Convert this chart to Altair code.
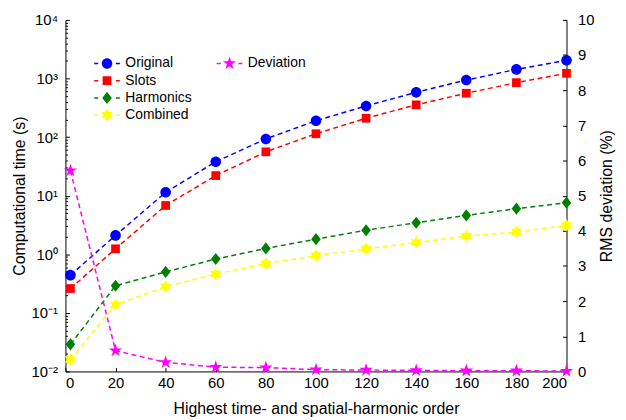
import math
import altair as alt
import pandas as pd

# ---------------- data ----------------
x_vals = [2, 20, 40, 60, 80, 100, 120, 140, 160, 180, 200]
original = [0.44, 2.1, 11.4, 38, 93, 190, 340, 580, 940, 1430, 2040]
slots = [0.26, 1.24, 6.8, 22, 56, 114, 210, 355, 560, 850, 1225]
harmonics = [0.029, 0.29, 0.50, 0.83, 1.26, 1.81, 2.57, 3.45, 4.6, 6.0, 7.6]
combined = [0.016, 0.137, 0.28, 0.46, 0.69, 0.95, 1.23, 1.59, 2.03, 2.4, 3.1]
deviation = [5.71, 0.59, 0.26, 0.12, 0.11, 0.05, 0.04, 0.03, 0.02, 0.02, 0.01]

left_names = ["Original", "Slots", "Harmonics", "Combined"]
left_colors = ["#0000FF", "#FF0000", "#008000", "#FFFF00"]
dev_name = "Deviation"
dev_color = "#FF00FF"

x_ticks = [0, 20, 40, 60, 80, 100, 120, 140, 160, 180, 200]
y_major = [0.01, 0.1, 1, 10, 100, 1000, 10000]
y_minor = [k * 10 ** d for d in range(-2, 4) for k in range(2, 10)]
r_ticks = list(range(0, 11))

FONT = "Liberation Sans"
TICK_FS = 15

# ---------------- marker shapes (unit paths) ----------------
def circle(r):
    return f"M{r},0A{r},{r} 0 1,1 {-r},0A{r},{r} 0 1,1 {r},0Z"

def poly(pts):
    return "M" + "L".join(f"{x:.3f},{y:.3f}" for x, y in pts) + "Z"

def star(n, R, r):
    pts = []
    for i in range(2 * n):
        a = -math.pi / 2 + i * math.pi / n
        rad = R if i % 2 == 0 else r
        pts.append((rad * math.cos(a), rad * math.sin(a)))
    return poly(pts)

def hexagram(R):
    t1 = [(R * math.cos(-math.pi / 2 + k * 2 * math.pi / 3), R * math.sin(-math.pi / 2 + k * 2 * math.pi / 3)) for k in range(3)]
    t2 = [(R * math.cos(math.pi / 2 + k * 2 * math.pi / 3), R * math.sin(math.pi / 2 + k * 2 * math.pi / 3)) for k in range(3)]
    return poly(t1) + poly(t2)

m_circle = circle(0.97)
m_square = poly([(-0.8, -0.8), (0.8, -0.8), (0.8, 0.8), (-0.8, 0.8)])
m_diamond = poly([(-0.88, 0), (0, -1.12), (0.88, 0), (0, 1.12)])
m_hexa = hexagram(1.17)
m_penta = star(5, 1.28, 1.28 * 0.382)

dash_l = poly([(-2.35, -0.14), (-1.62, -0.14), (-1.62, 0.14), (-2.35, 0.14)])
dash_r = poly([(1.62, -0.14), (2.35, -0.14), (2.35, 0.14), (1.62, 0.14)])

left_markers = [m_circle, m_square, m_diamond, m_hexa]
left_legend_paths = [dash_l + m + dash_r for m in left_markers]
dev_legend_path = dash_l + m_penta + dash_r

MSIZE = 121

# ---------------- tables ----------------
left_df = pd.DataFrame(
    [
        {"x": x, "value": v, "series": name}
        for name, vals in zip(left_names, [original, slots, harmonics, combined])
        for x, v in zip(x_vals, vals)
    ]
)
dev_df = pd.DataFrame({"x": x_vals, "value": deviation, "series": dev_name})

xscale = alt.Scale(domain=[0, 200], nice=False, zero=False)
yscale_l = alt.Scale(type="log", domain=[0.01, 10000], nice=False)
yscale_r = alt.Scale(domain=[0, 10], nice=False, zero=True)
cscale = alt.Scale(domain=left_names, range=left_colors)

common_axis = dict(grid=False, domainColor="black", tickColor="black", labelColor="black",
                   labelFont=FONT, titleFont=FONT, titleColor="black", titleFontWeight="normal",
                   domainWidth=1, tickWidth=1)

def tick_axis(orient, values, size):
    return alt.Axis(orient=orient, values=values, labels=False, domain=False, ticks=True,
                    tickSize=size, offset=-size, title=None, **common_axis)

no_axis = None

x_main_axis = alt.Axis(orient="bottom", values=x_ticks, format="d", ticks=False, tickSize=0,
                       labelPadding=4, labelFontSize=TICK_FS,
                       title="Highest time- and spatial-harmonic order", titleFontSize=16,
                       titleX=253, titleY=37, titleBaseline="middle", titleAlign="center",
                       **common_axis)

left_main_axis = alt.Axis(
    orient="left", values=y_major, ticks=False, tickSize=0, labelPadding=8, labelFontSize=TICK_FS,
    labelExpr="'10' + ['⁻²','⁻¹','⁰','¹','²','³','⁴'][round(log(datum.value)/LN10) + 2]",
    title="Computational time (s)", titleFontSize=16, titleX=-46, titleY=177.5,
    titleAngle=270, titleBaseline="middle", titleAlign="center", **common_axis)

right_main_axis = alt.Axis(
    orient="right", values=r_ticks, format="d", ticks=False, tickSize=0, labelPadding=11,
    labelFontSize=TICK_FS, title="RMS deviation (%)", titleFontSize=16, titleX=40, titleY=177.5,
    titleAngle=270, titleBaseline="middle", titleAlign="center", **common_axis)

def legend(x, y):
    return alt.Legend(orient="none", legendX=x, legendY=y, title=None, symbolSize=MSIZE,
                      symbolOpacity=1, symbolStrokeWidth=0, labelOffset=11.5,
                      labelFont=FONT, labelFontSize=14, labelColor="black", rowPadding=3.4,
                      labelLimit=300)

DASH = [5, 3.5]

# ---------------- left layers ----------------
l_line = alt.Chart(left_df).mark_line(strokeDash=DASH, strokeWidth=1.5).encode(
    x=alt.X("x:Q", scale=xscale, axis=x_main_axis),
    y=alt.Y("value:Q", scale=yscale_l, axis=left_main_axis),
    color=alt.Color("series:N", scale=cscale, legend=None),
    detail="series:N",
)

l_pts = alt.Chart(left_df).mark_point(filled=True, size=MSIZE, opacity=1, strokeWidth=0).encode(
    x=alt.X("x:Q", scale=xscale, axis=tick_axis("bottom", x_ticks, 4)),
    y=alt.Y("value:Q", scale=yscale_l, axis=tick_axis("left", y_major, 4)),
    color=alt.Color("series:N", scale=cscale, legend=None),
    shape=alt.Shape("series:N", scale=alt.Scale(domain=left_names, range=left_markers), legend=None),
)

leg1 = legend(35, 37)
l_leg = alt.Chart(left_df).mark_point(filled=True, size=MSIZE, opacity=0).encode(
    x=alt.X("x:Q", scale=xscale, axis=no_axis),
    y=alt.Y("value:Q", scale=yscale_l, axis=tick_axis("left", y_minor, 2)),
    fill=alt.Fill("series:N", scale=alt.Scale(domain=left_names, range=left_colors), legend=leg1),
    shape=alt.Shape("series:N", scale=alt.Scale(domain=left_names, range=left_legend_paths), legend=leg1),
)

# ---------------- right layers ----------------
r_line = alt.Chart(dev_df).mark_line(strokeDash=DASH, strokeWidth=1.5, color=dev_color).encode(
    x=alt.X("x:Q", scale=xscale, axis=no_axis),
    y=alt.Y("value:Q", scale=yscale_r, axis=right_main_axis),
)

r_pts = alt.Chart(dev_df).mark_point(filled=True, size=MSIZE, opacity=1, strokeWidth=0,
                                     color=dev_color, shape=m_penta).encode(
    x=alt.X("x:Q", scale=xscale, axis=no_axis),
    y=alt.Y("value:Q", scale=yscale_r, axis=tick_axis("right", r_ticks, 4)),
)

leg2 = legend(158.7, 37)
r_leg = alt.Chart(dev_df).mark_point(filled=True, size=MSIZE, opacity=0).encode(
    x=alt.X("x:Q", scale=xscale, axis=no_axis),
    y=alt.Y("value:Q", scale=yscale_r, axis=no_axis),
    fill=alt.Fill("series:N", scale=alt.Scale(domain=[dev_name], range=[dev_color]), legend=leg2),
    shape=alt.Shape("series:N", scale=alt.Scale(domain=[dev_name], range=[dev_legend_path]), legend=leg2),
)

chart = (
    alt.layer(l_line, l_pts, l_leg, r_line, r_pts, r_leg)
    .resolve_scale(y="independent", shape="independent", fill="independent")
    .resolve_axis(x="independent", y="independent")
    .resolve_legend(shape="independent", fill="independent")
    .properties(
        width=506,
        height=355,
        autosize=alt.AutoSizeParams(type="none"),
        padding={"left": 58, "top": 10, "right": 52, "bottom": 44},
        background="white",
    )
    .configure_view(stroke=None)
)

chart.save("out.html", embed_options={"renderer": "svg", "actions": False})
